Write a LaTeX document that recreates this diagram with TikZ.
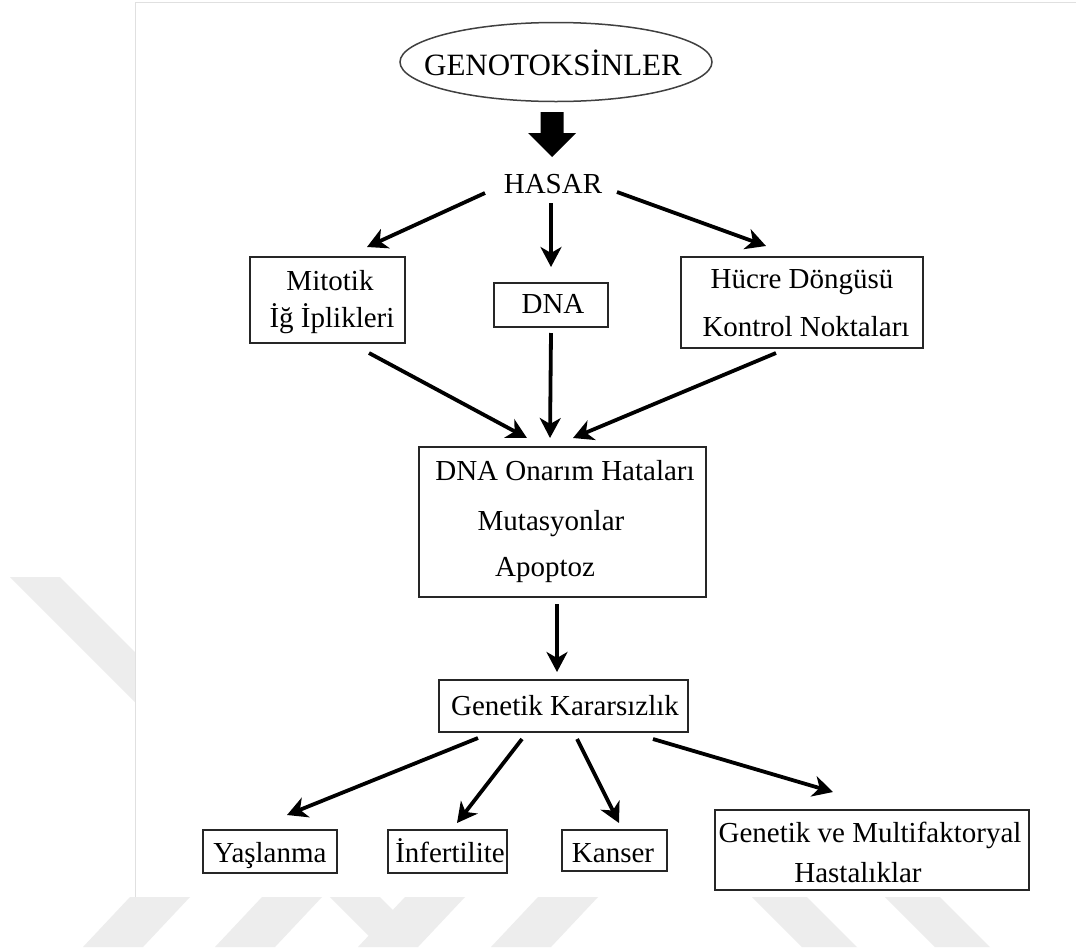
\documentclass[tikz,border=0pt]{standalone}
\usepackage{fontspec}
\setmainfont{Liberation Serif}
\usetikzlibrary{arrows.meta,shapes.geometric}
\begin{document}
\begin{tikzpicture}[x=1pt,y=-1pt,
  txt/.style={font=\fontsize{29}{34}\selectfont, inner sep=0pt, anchor=base},
  box/.style={draw=black!85, line width=1.8pt, inner sep=0pt},
  arr/.style={line width=3.8pt, -{Stealth[length=20pt,width=21pt,inset=6pt]}},
  wm/.style={fill=black!7, draw=none}]
\useasboundingbox (0,0) rectangle (1076,951);
\fill[white] (0,0) rectangle (1076,951);
% faint background stripes
\fill[wm] (10,577) -- (60,577) -- (420,937) -- (370,937) -- cycle;
\foreach \a in {130,262,405,538}
  \fill[wm] (\a,897) -- ({\a+60},897) -- ({\a+13},947) -- ({\a-47},947) -- cycle;
\foreach \b in {752,885}
  \fill[wm] (\b,897) -- ({\b+55},897) -- ({\b+105},947) -- ({\b+50},947) -- cycle;
% panel
\fill[white] (135,2) rectangle (1076,897);
\draw[black!12, line width=0.8pt] (135,897) -- (135,2) -- (1076,2);

% top ellipse
\node[draw=black!75, line width=1.5pt, ellipse, minimum width=312pt, minimum height=79pt, inner sep=0pt] (ell) at (556,62) {};
\node[txt, font=\fontsize{31}{36}\selectfont] (geno) at (553,75) {GENOTOKSİNLER};
% block arrow
\fill[black] (540.5,112) -- (563.5,112) -- (563.5,133) -- (576,133) -- (552,157) -- (528,133) -- (540.5,133) -- cycle;
\node[txt] (hasar) at (553,193) {HASAR};

% second row
\node[box, minimum width=155pt, minimum height=86pt] (mitbox) at (327.5,300) {};
\node[txt] (mit1) at (330,290) {Mitotik};
\node[txt] (mit2) at (332,327) {İğ İplikleri};
\node[box, minimum width=114pt, minimum height=44pt] (dnabox) at (551,305) {};
\node[txt] (dna) at (553,313) {DNA};
\node[box, minimum width=242pt, minimum height=91pt] (hucbox) at (802,302.5) {};
\node[txt] (huc1) at (802,288) {Hücre Döngüsü};
\node[txt] (huc2) at (806,336) {Kontrol Noktaları};

% central box
\node[box, minimum width=287pt, minimum height=150pt] (cbox) at (562.5,522) {};
\node[txt] (c1) at (565,480) {DNA Onarım Hataları};
\node[txt] (c2) at (551,530) {Mutasyonlar};
\node[txt] (c3) at (545,576) {Apoptoz};

% genetik kararsizlik
\node[box, minimum width=249pt, minimum height=52pt] (gkbox) at (563.5,706) {};
\node[txt] (gk) at (565,715) {Genetik Kararsızlık};

% bottom row
\node[box, minimum width=134pt, minimum height=43pt] (yasbox) at (270,851.5) {};
\node[txt] (yas) at (270,862) {Yaşlanma};
\node[box, minimum width=119pt, minimum height=43pt] (infbox) at (447.5,851.5) {};
\node[txt] (inf) at (450,862) {İnfertilite};
\node[box, minimum width=105pt, minimum height=41pt] (kanbox) at (614.5,850.5) {};
\node[txt] (kan) at (613,862) {Kanser};
\node[box, minimum width=314pt, minimum height=80pt] (gmbox) at (872,850) {};
\node[txt] (gm1) at (870,842) {Genetik ve Multifaktoryal};
\node[txt] (gm2) at (858,882) {Hastalıklar};

% connector end points
\coordinate (h1s) at (485,193); \coordinate (h1e) at (367,247);
\coordinate (h2s) at (551,203); \coordinate (h2e) at (551,267);
\coordinate (h3s) at (617,192); \coordinate (h3e) at (766,246);
\coordinate (m1s) at (369,353); \coordinate (m1e) at (527,438);
\coordinate (m2s) at (551,333); \coordinate (m2e) at (550,438);
\coordinate (m3s) at (776,353); \coordinate (m3e) at (573,438);
\coordinate (c1s) at (557,604); \coordinate (c1e) at (557,672);
\coordinate (g1s) at (478,738); \coordinate (g1e) at (287,815);
\coordinate (g2s) at (522,739); \coordinate (g2e) at (457,823);
\coordinate (g3s) at (577,739); \coordinate (g3e) at (619,823);
\coordinate (g4s) at (653,739); \coordinate (g4e) at (833,792);

\draw[arr] (h1s) -- (h1e);
\draw[arr] (h2s) -- (h2e);
\draw[arr] (h3s) -- (h3e);
\draw[arr] (m1s) -- (m1e);
\draw[arr] (m2s) -- (m2e);
\draw[arr] (m3s) -- (m3e);
\draw[arr] (c1s) -- (c1e);
\draw[arr] (g1s) -- (g1e);
\draw[arr] (g2s) -- (g2e);
\draw[arr] (g3s) -- (g3e);
\draw[arr] (g4s) -- (g4e);
\end{tikzpicture}
\end{document}
